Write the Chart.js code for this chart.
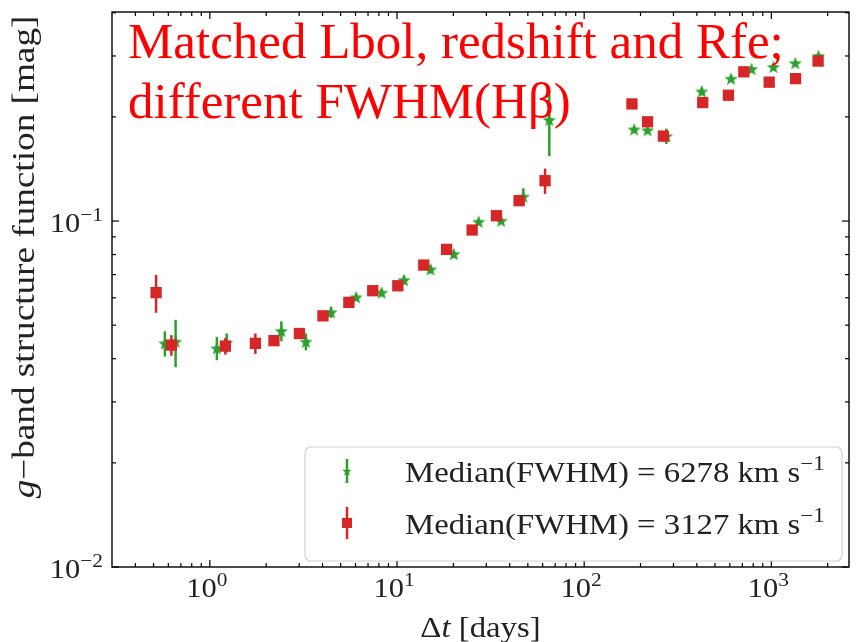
<!DOCTYPE html>
<html>
<head>
<meta charset="utf-8">
<script src="https://cdn.jsdelivr.net/npm/chart.js@4.4.1/dist/chart.umd.min.js"></script>
<style>
  html, body { margin: 0; padding: 0; background: #ffffff; }
  #wrap { width: 857px; height: 642px; }
</style>
</head>
<body>
<div id="wrap"><canvas id="sf" width="857" height="642"></canvas></div>
<script>
// g-band structure function of two quasar subsamples (matched Lbol, z, Rfe)
// Broad-line subsample: median FWHM(Hb) = 6278 km/s
const broadLag = [0.575, 0.656, 1.09, 1.23, 2.41, 3.26, 4.44, 6.05, 8.27, 10.9, 15.1, 20.1, 27.3, 36.0, 47.3, 65.1, 185, 218, 275, 425, 609, 784, 1026, 1343, 1786];
const broadSF  = [0.0443, 0.0448, 0.0429, 0.0445, 0.0481, 0.0448, 0.0545, 0.0602, 0.0621, 0.0675, 0.0725, 0.0803, 0.0995, 0.1002, 0.1176, 0.196, 0.184, 0.183, 0.176, 0.237, 0.258, 0.275, 0.279, 0.286, 0.300];
const broadErr = [0.0037, 0.007, 0.0033, 0.0028, 0.0032, 0.0025, 0.002, 0.0015, 0.0015, 0.002, 0.002, 0.002, 0.002, 0.002, 0.0067, 0.042, 0.003, 0.003, 0.009, 0.006, 0.005, 0.004, 0.004, 0.004, 0.005];

// Narrow-line subsample: median FWHM(Hb) = 3127 km/s
const narrowLag = [0.516, 0.623, 1.21, 1.75, 2.20, 3.01, 4.02, 5.53, 7.42, 10.1, 13.9, 18.4, 25.2, 34.0, 44.9, 61.8, 180, 218, 265, 430, 590, 713, 974, 1347, 1778];
const narrowSF  = [0.0621, 0.0438, 0.0435, 0.0443, 0.0451, 0.0473, 0.0532, 0.0582, 0.0629, 0.0650, 0.0746, 0.0828, 0.0942, 0.1036, 0.1145, 0.1308, 0.218, 0.1936, 0.176, 0.220, 0.231, 0.270, 0.252, 0.258, 0.290];
const narrowErr = [0.0078, 0.003, 0.0024, 0.003, 0.0015, 0.0015, 0.001, 0.001, 0.001, 0.0015, 0.0015, 0.0015, 0.002, 0.002, 0.003, 0.011, 0.004, 0.006, 0.005, 0.005, 0.005, 0.006, 0.006, 0.006, 0.006];

const seriesNames = ['Median(FWHM) = 6278 km s', 'Median(FWHM) = 3127 km s'];
const titleLines = ['Matched Lbol, redshift and Rfe;', 'different FWHM(H\u03b2)'];

// labelled decades and their exponents
const xMajor = [1, 10, 100, 1000];
const xMajorExp = ['0', '1', '2', '3'];
const yMajor = [0.01, 0.1];
const yMajorExp = ['\u22122', '\u22121'];

const GREEN = '#2ca02c';
const RED = '#d62728';
const SERIF = '"Liberation Serif", "Times New Roman", serif';
const STRETCH = 1.13;

// minor ticks at 2..9 x 10^k inside the axis range
function minorTicks(lo, hi) {
  const out = [];
  for (let e = Math.floor(Math.log10(lo)); e <= Math.ceil(Math.log10(hi)); e++) {
    for (let m = 2; m <= 9; m++) {
      const v = m * Math.pow(10, e);
      if (v > lo && v < hi) out.push(v);
    }
  }
  return out;
}

// filled five-point star used as the broad-line marker
function starImage(r, color) {
  const c = document.createElement('canvas');
  const s = Math.ceil(2 * r + 2);
  c.width = s; c.height = s;
  const g = c.getContext('2d');
  g.translate(s / 2, s / 2 + r * 0.08);
  g.beginPath();
  for (let i = 0; i < 10; i++) {
    const rr = i % 2 === 0 ? r : r * 0.42;
    const a = -Math.PI / 2 + i * Math.PI / 5;
    const px = rr * Math.cos(a), py = rr * Math.sin(a);
    if (i === 0) g.moveTo(px, py); else g.lineTo(px, py);
  }
  g.closePath();
  g.fillStyle = color;
  g.fill();
  return c;
}
const starMarker = starImage(7, GREEN);

// text made of runs: {t, it (italic), sup (superscript)}
function drawRuns(ctx, runs, x, y, size, align, stretch) {
  const k = stretch || STRETCH;
  const parts = runs.map(r => {
    const s = r.sup ? size * 0.7 : size;
    const font = (r.it ? 'italic ' : '') + s + 'px ' + SERIF;
    ctx.font = font;
    return { r, font, w: ctx.measureText(r.t).width * k };
  });
  const total = parts.reduce((a, p) => a + p.w, 0);
  let cx = align === 'center' ? x - total / 2 : align === 'right' ? x - total : x;
  ctx.textAlign = 'left';
  ctx.textBaseline = 'alphabetic';
  for (const p of parts) {
    ctx.save();
    ctx.font = p.font;
    ctx.translate(cx, y - (p.r.sup ? size * 0.42 : 0));
    ctx.scale(k, 1);
    ctx.fillText(p.r.t, 0, 0);
    ctx.restore();
    cx += p.w;
  }
}

const X_MIN = 0.343, X_MAX = 2600, Y_MIN = 0.01, Y_MAX = 0.402;

// vertical error bars, drawn just before each dataset's markers
const errorBars = {
  id: 'errorBars',
  beforeDatasetDraw(chart, args) {
    const ds = chart.data.datasets[args.index];
    const { ctx, scales: { x, y } } = chart;
    ctx.save();
    ctx.strokeStyle = ds.errColor;
    ctx.lineWidth = 2.5;
    ds.data.forEach(p => {
      const px = x.getPixelForValue(p.x);
      ctx.beginPath();
      ctx.moveTo(px, y.getPixelForValue(p.y - p.e));
      ctx.lineTo(px, y.getPixelForValue(p.y + p.e));
      ctx.stroke();
    });
    ctx.restore();
  }
};

// frame, inward ticks on all four sides, tick labels, axis titles, legend, annotation
const decorations = {
  id: 'decorations',
  afterDraw(chart) {
    const { ctx, chartArea: a, scales: { x, y } } = chart;
    ctx.save();
    ctx.strokeStyle = '#000';
    ctx.lineWidth = 1.4;
    ctx.strokeRect(a.left, a.top, a.right - a.left, a.bottom - a.top);

    const tick = (px, py, dx, dy) => { ctx.beginPath(); ctx.moveTo(px, py); ctx.lineTo(px + dx, py + dy); ctx.stroke(); };
    ctx.lineWidth = 1.2;
    xMajor.forEach(v => { const p = x.getPixelForValue(v); tick(p, a.bottom, 0, -7); tick(p, a.top, 0, 7); });
    minorTicks(X_MIN, X_MAX).forEach(v => { const p = x.getPixelForValue(v); tick(p, a.bottom, 0, -4); tick(p, a.top, 0, 4); });
    yMajor.forEach(v => { const p = y.getPixelForValue(v); tick(a.left, p, 7, 0); tick(a.right, p, -7, 0); });
    minorTicks(Y_MIN, Y_MAX).forEach(v => { const p = y.getPixelForValue(v); tick(a.left, p, 4, 0); tick(a.right, p, -4, 0); });

    ctx.fillStyle = '#222';
    xMajor.forEach((v, i) => {
      drawRuns(ctx, [{ t: '10' }, { t: xMajorExp[i], sup: true }], x.getPixelForValue(v) - 3, a.bottom + 30, 27, 'center');
    });
    yMajor.forEach((v, i) => {
      drawRuns(ctx, [{ t: '10' }, { t: yMajorExp[i], sup: true }], a.left - 9, y.getPixelForValue(v) + 11, 27, 'right');
    });

    // axis titles
    drawRuns(ctx, [{ t: '\u0394' }, { t: 't', it: true }, { t: ' [days]' }], (a.left + a.right) / 2, 637, 29, 'center');
    ctx.save();
    ctx.translate(34, 257);
    ctx.rotate(-Math.PI / 2);
    drawRuns(ctx, [{ t: 'g', it: true }, { t: '\u2212band structure function [mag]' }], 0, 0, 31, 'center', 1.2);
    ctx.restore();

    // legend
    const L = { x: 305, y: 447, w: 537, h: 114, r: 6 };
    ctx.beginPath();
    ctx.roundRect(L.x, L.y, L.w, L.h, L.r);
    ctx.fillStyle = 'rgba(255,255,255,0.8)';
    ctx.fill();
    ctx.strokeStyle = '#d0d0d0';
    ctx.lineWidth = 1.2;
    ctx.stroke();
    const rows = [
      { cy: 471, color: GREEN, err: 12, marker: 'star' },
      { cy: 523, color: RED, err: 16, marker: 'rect' }
    ];
    rows.forEach((row, i) => {
      const mx = 347;
      ctx.strokeStyle = row.color;
      ctx.lineWidth = 2.5;
      tick(mx, row.cy - row.err, 0, 2 * row.err);
      if (row.marker === 'star') {
        ctx.drawImage(starImage(5, GREEN), mx - 6, row.cy - 6);
      } else {
        ctx.fillStyle = RED;
        ctx.fillRect(mx - 5, row.cy - 5, 10, 10);
      }
      ctx.fillStyle = '#222';
      drawRuns(ctx, [{ t: seriesNames[i] }, { t: '\u22121', sup: true }], 405, row.cy + 11, 29, 'left');
    });

    // annotation
    ctx.fillStyle = '#ff0000';
    ctx.font = '51px ' + SERIF;
    ctx.textAlign = 'left';
    ctx.textBaseline = 'alphabetic';
    ctx.fillText(titleLines[0], 128, 58);
    ctx.fillText(titleLines[1], 128, 118);
    ctx.restore();
  }
};

const toPoints = (xs, ys, es) => xs.map((v, i) => ({ x: v, y: ys[i], e: es[i] }));

new Chart(document.getElementById('sf'), {
  type: 'scatter',
  data: {
    datasets: [
      {
        label: seriesNames[1],
        data: toPoints(narrowLag, narrowSF, narrowErr),
        pointStyle: 'rect',
        pointRadius: 8,
        pointHoverRadius: 8,
        backgroundColor: RED,
        borderColor: RED,
        borderWidth: 0,
        errColor: RED
      },
      {
        label: seriesNames[0],
        data: toPoints(broadLag, broadSF, broadErr),
        pointStyle: starMarker,
        pointRadius: 7,
        pointHoverRadius: 7,
        backgroundColor: GREEN,
        borderColor: GREEN,
        errColor: GREEN
      }
    ]
  },
  options: {
    responsive: false,
    animation: false,
    events: [],
    layout: { padding: { left: 112, top: 12, right: 2, bottom: 75 } },
    plugins: { legend: { display: false }, tooltip: { enabled: false } },
    scales: {
      x: { type: 'logarithmic', min: X_MIN, max: X_MAX, display: false },
      y: { type: 'logarithmic', min: Y_MIN, max: Y_MAX, display: false }
    }
  },
  plugins: [errorBars, decorations]
});
</script>
</body>
</html>
